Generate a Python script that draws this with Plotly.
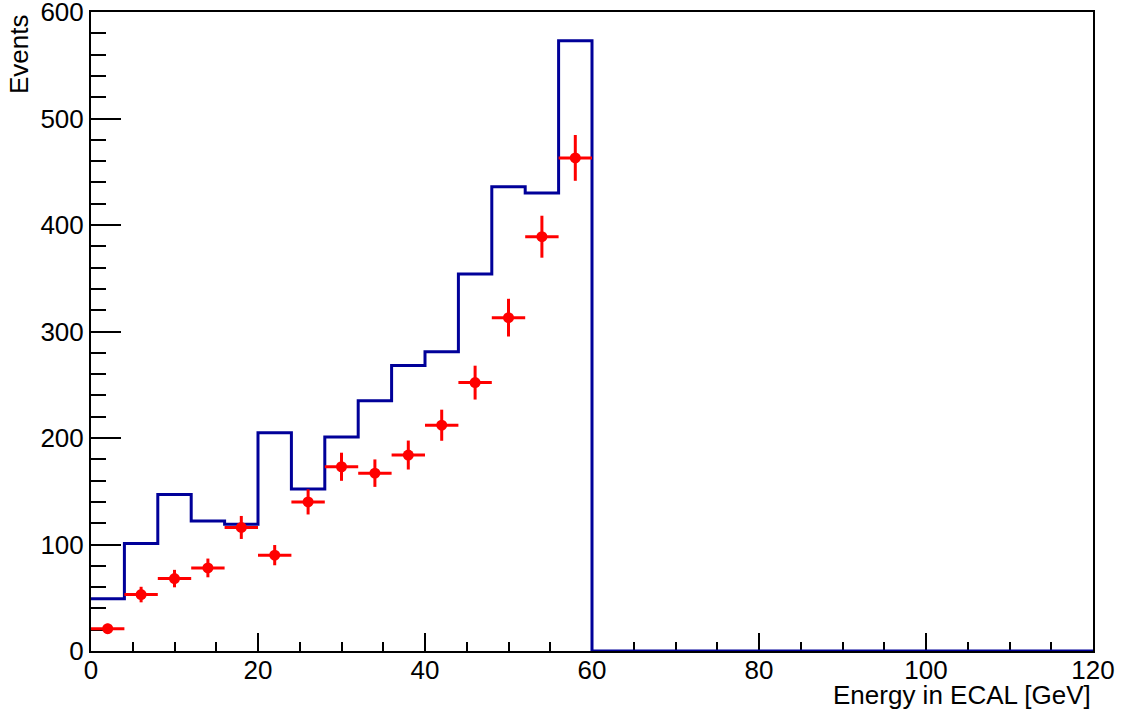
import plotly.graph_objects as go

# Histogram (MC) bin edges and contents
bin_edges = list(range(0, 124, 4))
mc_counts = [49, 101, 147, 122, 119, 205, 152, 201, 235, 268, 281, 354, 436, 430, 573,
             0, 0, 0, 0, 0, 0, 0, 0, 0, 0, 0, 0, 0, 0, 0]

# Data points
data_x = [2, 6, 10, 14, 18, 22, 26, 30, 34, 38, 42, 46, 50, 54, 58]
data_y = [21, 53, 68, 78, 116, 90, 140, 173, 167, 184, 212, 252, 313, 389, 463]
data_yerr = [4.6, 7.3, 8.2, 8.8, 10.8, 9.5, 11.8, 13.2, 12.9, 13.6, 14.6, 15.9, 17.7, 19.7, 21.5]
data_xerr = [2] * 15

FONT = "Liberation Sans, Arial, Helvetica, sans-serif"
FS = 26

hist_x = bin_edges[:-1] + [bin_edges[-1]]
hist_y = mc_counts + [mc_counts[-1]]

fig = go.Figure()
fig.add_trace(go.Scatter(
    x=hist_x, y=hist_y, mode="lines", line=dict(shape="hv", color="#000099", width=3),
    cliponaxis=False, showlegend=False, hoverinfo="skip"))
fig.add_trace(go.Scatter(
    x=data_x, y=data_y, mode="markers",
    marker=dict(color="#ff0000", size=11, symbol="circle"),
    error_x=dict(type="data", array=data_xerr, color="#ff0000", thickness=3, width=0),
    error_y=dict(type="data", array=data_yerr, color="#ff0000", thickness=3, width=0),
    cliponaxis=False, showlegend=False))

fig.update_layout(
    width=1121, height=713,
    margin=dict(l=91, r=28, t=12, b=62, autoexpand=False),
    paper_bgcolor="white", plot_bgcolor="white",
    font=dict(family=FONT, size=FS, color="black"),
    xaxis=dict(range=[0, 120], tickmode="linear", tick0=0, dtick=20,
               ticks="inside", ticklen=18, tickwidth=2, tickcolor="black",
               showline=True, linecolor="black", linewidth=2, mirror=True,
               showgrid=False, zeroline=False, layer="below traces", automargin=False,
               tickfont=dict(size=FS), ticklabelstandoff=-5, ticklabeloverflow="allow",
               minor=dict(ticks="inside", ticklen=9, tickwidth=2, tickcolor="black",
                          dtick=5, tick0=0, showgrid=False)),
    yaxis=dict(range=[0, 600], tickmode="linear", tick0=0, dtick=100,
               ticks="inside", ticklen=30, tickwidth=2, tickcolor="black",
               showline=True, linecolor="black", linewidth=2, mirror=True,
               showgrid=False, zeroline=False, layer="below traces", automargin=False,
               tickfont=dict(size=FS), ticklabeloverflow="allow",
               minor=dict(ticks="inside", ticklen=15, tickwidth=2, tickcolor="black",
                          dtick=20, tick0=0, showgrid=False)),
    annotations=[
        dict(text="Energy in ECAL [GeV]", xref="paper", yref="paper", x=1, y=0,
             xanchor="right", yanchor="top", yshift=-27, showarrow=False,
             font=dict(size=FS)),
        dict(text="Events", xref="paper", yref="paper", x=0, y=1,
             xanchor="right", yanchor="top", xshift=-55, textangle=-90, showarrow=False,
             font=dict(size=FS)),
    ],
)

fig.write_html("out.html")
